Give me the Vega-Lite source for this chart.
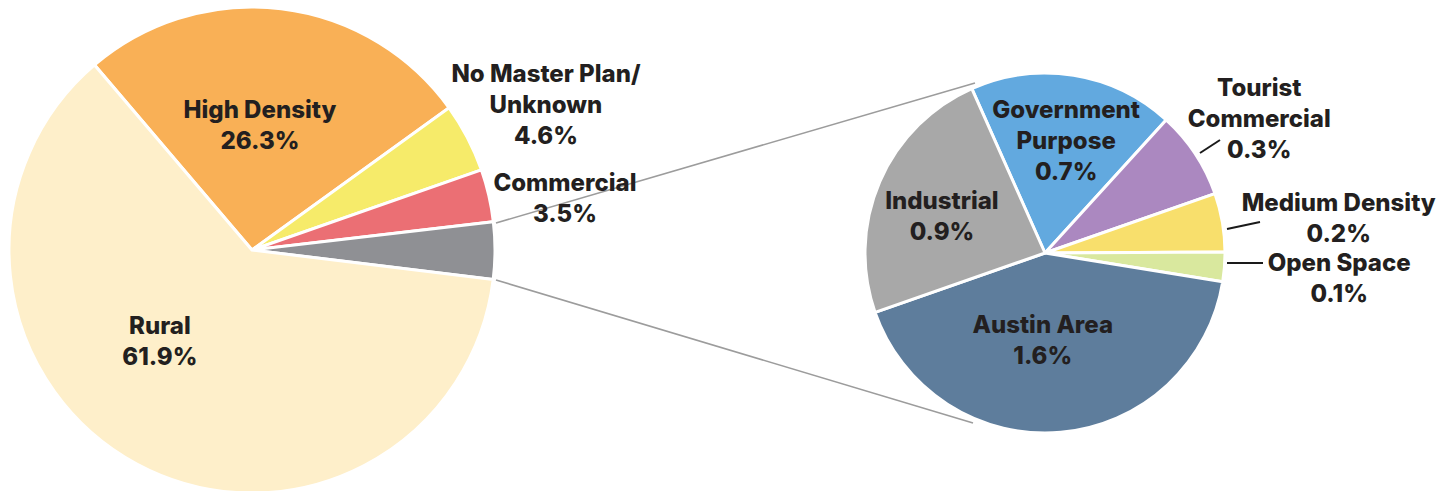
{
  "$schema": "https://vega.github.io/schema/vega-lite/v6.json",
  "width": 1455,
  "height": 491,
  "autosize": {"type": "none"},
  "padding": 0,
  "background": "white",
  "config": {
    "view": {"stroke": null},
    "text": {"font": "Inter", "fontSize": 24, "fontWeight": 800, "lineHeight": 31, "color": "#231f20", "align": "center", "baseline": "middle"}
  },
  "datasets": {
    "main": [
      {"cat": "High Density", "pct": 26.3, "label": ["High Density", "26.3%"]},
      {"cat": "No Master Plan/Unknown", "pct": 4.6, "label": ["No Master Plan/", "Unknown", "4.6%"]},
      {"cat": "Commercial", "pct": 3.5, "label": ["Commercial", "3.5%"]},
      {"cat": "Other", "pct": 3.8, "label": ""},
      {"cat": "Rural", "pct": 61.9, "label": ["Rural", "61.9%"]}
    ],
    "detail": [
      {"cat": "Government Purpose", "pct": 0.7, "label": ["Government", "Purpose", "0.7%"]},
      {"cat": "Tourist Commercial", "pct": 0.3, "label": ["Tourist", "Commercial", "0.3%"]},
      {"cat": "Medium Density", "pct": 0.2, "label": ["Medium Density", "0.2%"]},
      {"cat": "Open Space", "pct": 0.1, "label": ["Open Space", "0.1%"]},
      {"cat": "Austin Area", "pct": 1.6, "label": ["Austin Area", "1.6%"]},
      {"cat": "Industrial", "pct": 0.9, "label": ["Industrial", "0.9%"]}
    ],
    "connectors": [
      {"x1": 496, "y1": 223, "x2": 975, "y2": 83},
      {"x1": 496, "y1": 280, "x2": 973, "y2": 423}
    ],
    "leaders": [
      {"x1": 1200, "y1": 153, "x2": 1220, "y2": 140},
      {"x1": 1227, "y1": 229, "x2": 1260, "y2": 222},
      {"x1": 1227, "y1": 263, "x2": 1263, "y2": 263}
    ]
  },
  "layer": [
    {
      "data": {"name": "connectors"},
      "mark": {"type": "rule", "color": "#9c9c9c", "strokeWidth": 1.6},
      "encoding": {
        "x": {"field": "x1", "type": "quantitative", "scale": {"domain": [0, 1455], "nice": false, "zero": false}, "axis": null},
        "y": {"field": "y1", "type": "quantitative", "scale": {"domain": [0, 491], "reverse": true, "nice": false, "zero": false}, "axis": null},
        "x2": {"field": "x2"},
        "y2": {"field": "y2"}
      }
    },
    {
      "data": {"name": "leaders"},
      "mark": {"type": "rule", "color": "#1a1a1a", "strokeWidth": 2},
      "encoding": {
        "x": {"field": "x1", "type": "quantitative", "scale": {"domain": [0, 1455], "nice": false, "zero": false}, "axis": null},
        "y": {"field": "y1", "type": "quantitative", "scale": {"domain": [0, 491], "reverse": true, "nice": false, "zero": false}, "axis": null},
        "x2": {"field": "x2"},
        "y2": {"field": "y2"}
      }
    },
    {
      "data": {"name": "main"},
      "transform": [{"window": [{"op": "row_number", "as": "idx"}]}],
      "encoding": {
        "x": {"datum": 252, "type": "quantitative", "scale": {"domain": [0, 1455], "nice": false, "zero": false}, "axis": null},
        "y": {"datum": 250, "type": "quantitative", "scale": {"domain": [0, 491], "reverse": true, "nice": false, "zero": false}, "axis": null},
        "theta": {"field": "pct", "type": "quantitative", "stack": true, "scale": {"range": [-0.7051, 5.5781]}},
        "order": {"field": "idx", "type": "quantitative"},
        "detail": {"field": "cat", "type": "nominal"}
      },
      "layer": [
        {
          "mark": {"type": "arc", "outerRadius": 243, "stroke": "white", "strokeWidth": 3},
          "encoding": {
            "color": {
              "field": "cat", "type": "nominal", "legend": null,
              "scale": {
                "domain": ["High Density", "No Master Plan/Unknown", "Commercial", "Other", "Rural"],
                "range": ["#F9B056", "#F6EB6A", "#EB6F74", "#8F9094", "#FEEFCA"]
              }
            }
          }
        },
        {"mark": {"type": "text", "radius": 124, "dx": -7, "dy": -16},
         "encoding": {"text": {"condition": {"test": "datum.cat === 'High Density'", "field": "label"}, "value": ""}}},
        {"mark": {"type": "text", "radius": 129, "dx": -31, "dy": -37},
         "encoding": {"text": {"condition": {"test": "datum.cat === 'Rural'", "field": "label"}, "value": ""}}},
        {"mark": {"type": "text", "radius": 327, "dx": 4, "dy": -24},
         "encoding": {"text": {"condition": {"test": "datum.cat === 'No Master Plan/Unknown'", "field": "label"}, "value": ""}}},
        {"mark": {"type": "text", "radius": 317, "dx": 4, "dy": 5},
         "encoding": {"text": {"condition": {"test": "datum.cat === 'Commercial'", "field": "label"}, "value": ""}}}
      ]
    },
    {
      "data": {"name": "detail"},
      "transform": [{"window": [{"op": "row_number", "as": "idx"}]}],
      "encoding": {
        "x": {"datum": 1045, "type": "quantitative", "scale": {"domain": [0, 1455], "nice": false, "zero": false}, "axis": null},
        "y": {"datum": 253, "type": "quantitative", "scale": {"domain": [0, 491], "reverse": true, "nice": false, "zero": false}, "axis": null},
        "theta": {"field": "pct", "type": "quantitative", "stack": true, "scale": {"range": [-0.4189, 5.8643]}},
        "order": {"field": "idx", "type": "quantitative"},
        "detail": {"field": "cat", "type": "nominal"}
      },
      "layer": [
        {
          "mark": {"type": "arc", "outerRadius": 180, "stroke": "white", "strokeWidth": 3},
          "encoding": {
            "color": {
              "field": "cat", "type": "nominal", "legend": null,
              "scale": {
                "domain": ["Government Purpose", "Tourist Commercial", "Medium Density", "Open Space", "Austin Area", "Industrial"],
                "range": ["#62A9DF", "#AB88C0", "#F8DF6C", "#D9E89E", "#5E7D9C", "#A8A8A8"]
              }
            }
          }
        },
        {"mark": {"type": "text", "radius": 114, "dx": 3, "dy": -29},
         "encoding": {"text": {"condition": {"test": "datum.cat === 'Government Purpose'", "field": "label"}, "value": ""}}},
        {"mark": {"type": "text", "radius": 109, "dx": -3, "dy": -8},
         "encoding": {"text": {"condition": {"test": "datum.cat === 'Industrial'", "field": "label"}, "value": ""}}},
        {"mark": {"type": "text", "radius": 88, "dx": -10, "dy": -15},
         "encoding": {"text": {"condition": {"test": "datum.cat === 'Austin Area'", "field": "label"}, "value": ""}}},
        {"mark": {"type": "text", "radius": 252, "dx": 4, "dy": -25},
         "encoding": {"text": {"condition": {"test": "datum.cat === 'Tourist Commercial'", "field": "label"}, "value": ""}}},
        {"mark": {"type": "text", "radius": 296, "dx": 2, "dy": 1},
         "encoding": {"text": {"condition": {"test": "datum.cat === 'Medium Density'", "field": "label"}, "value": ""}}},
        {"mark": {"type": "text", "radius": 295, "dx": 0, "dy": -12},
         "encoding": {"text": {"condition": {"test": "datum.cat === 'Open Space'", "field": "label"}, "value": ""}}}
      ]
    }
  ],
  "resolve": {"scale": {"theta": "independent", "color": "independent"}}
}
